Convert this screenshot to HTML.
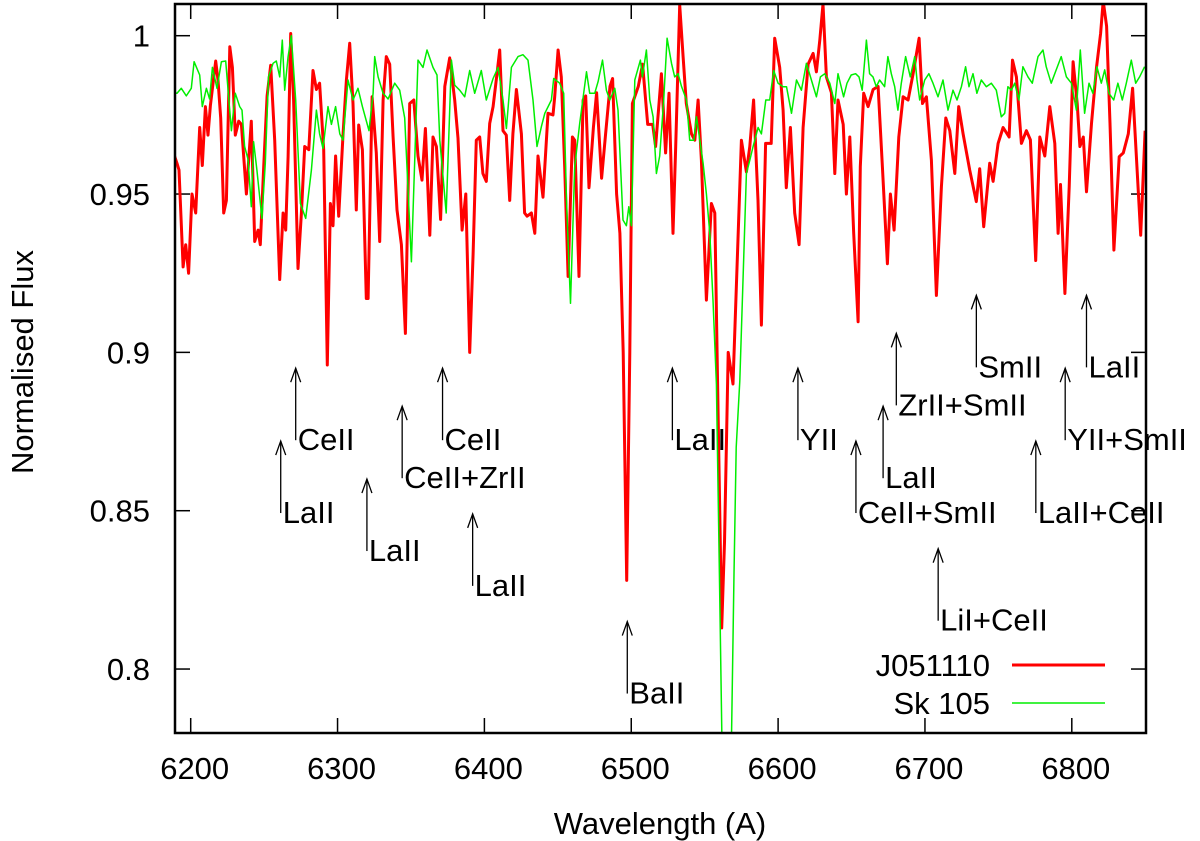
<!DOCTYPE html>
<html><head><meta charset="utf-8"><style>
html,body{margin:0;padding:0;background:#fff;}
svg{display:block;font-family:"Liberation Sans",Arial,sans-serif;}
</style></head><body>
<svg id="chart" width="1200" height="841" viewBox="0 0 1200 841" xmlns="http://www.w3.org/2000/svg">
<defs><clipPath id="clip"><rect x="175" y="4" width="971" height="729"/></clipPath></defs>
<g id="grid"></g>
<g id="series" clip-path="url(#clip)"></g>
<g id="annots"></g>
<rect x="175" y="4" width="971" height="729" fill="none" stroke="#000" stroke-width="2.5"/>
<text x="660" y="834" font-size="31" text-anchor="middle">Wavelength (A)</text>
<text x="0" y="0" font-size="31" text-anchor="middle" transform="translate(33,362) rotate(-90)">Normalised Flux</text>
<g>
<text x="990" y="676" font-size="31" text-anchor="end">J051110</text>
<line x1="1012" y1="665" x2="1105" y2="665" stroke="#ff0000" stroke-width="3"/>
<text x="990" y="714" font-size="31" text-anchor="end">Sk 105</text>
<line x1="1012" y1="703" x2="1105" y2="703" stroke="#00ee00" stroke-width="1.5"/>
</g>
</svg>
<script>
const xTicks=[6200,6300,6400,6500,6600,6700,6800];
const yTicks=[0.8,0.85,0.9,0.95,1];
const yTickLabels=["0.8","0.85","0.9","0.95","1"];
const redSpectrum=[[6189,.962],[6190.7,.9597],[6192,.9576],[6194.8,.927],[6196.6,.934],[6198.6,.925],[6200.9,.950],[6203.4,.944],[6206.1,.971],[6207.9,.959],[6210,.9776],[6211.8,.9686],[6213.4,.978],[6217,.992],[6218.6,.986],[6220.4,.974],[6222.5,.944],[6224.3,.948],[6226.6,.9965],[6228.4,.990],[6230.4,.9686],[6232.7,.973],[6234.5,.972],[6237.9,.950],[6241.3,.973],[6243.6,.935],[6245.9,.9386],[6247.4,.934],[6249.7,.9586],[6252,.981],[6254.5,.9907],[6257.2,.967],[6260.6,.923],[6262.9,.944],[6264.7,.9386],[6266.3,.9618],[6268.1,1.0007],[6270.1,.9797],[6273.1,.9265],[6275.4,.944],[6277.6,.965],[6280.4,.964],[6283.3,.989],[6285.6,.983],[6287.8,.985],[6290.6,.964],[6293,.896],[6295.1,.947],[6296.9,.940],[6298.7,.962],[6300.8,.943],[6303.7,.9686],[6306,.986],[6308.3,.9976],[6310.5,.9786],[6312.8,.945],[6314.4,.9718],[6316.9,.964],[6319.6,.917],[6320.8,.917],[6323.5,.9807],[6326.4,.963],[6328.7,.935],[6331,.9797],[6333.2,.9934],[6335.5,.991],[6337.8,.968],[6340.5,.945],[6343.5,.934],[6346.2,.906],[6349.1,.9786],[6351.9,.9797],[6354.8,.962],[6357.5,.9544],[6359.8,.9707],[6362.8,.937],[6365,.968],[6367.3,.965],[6370.2,.942],[6373,.984],[6376.4,.993],[6379.8,.9797],[6382,.9676],[6384.8,.9386],[6387.3,.950],[6390,.900],[6392.3,.931],[6394.5,.967],[6396.8,.968],[6399,.9565],[6401.3,.954],[6403.6,.9723],[6405.9,.9776],[6408.6,.988],[6410.4,.9955],[6412.7,.970],[6414.9,.9686],[6417.2,.948],[6419.4,.969],[6421.8,.983],[6425.2,.969],[6427.4,.944],[6429.1,.943],[6432,.944],[6434.3,.9376],[6436.5,.962],[6439.9,.949],[6443.3,.9755],[6446.7,.975],[6447.9,.9807],[6450.2,.9955],[6452.4,.987],[6454.7,.9586],[6457,.924],[6459.9,.968],[6461.5,.967],[6464.4,.924],[6467.2,.9797],[6469,.981],[6471.2,.952],[6474.2,.971],[6476.4,.982],[6479.8,.955],[6482.5,.969],[6485.5,.984],[6487.3,.9865],[6490,.950],[6492.3,.9376],[6494.5,.90],[6496.9,.828],[6499,.90],[6500.8,.9786],[6504.8,.984],[6507.7,.991],[6511.2,.972],[6514.6,.972],[6516.6,.965],[6520.5,.988],[6523.4,.963],[6525.7,.9818],[6528.4,.9376],[6530.3,.965],[6533,1.0097],[6535.3,.9934],[6537.5,.9786],[6541,.969],[6543.3,.967],[6545.5,.9797],[6547.8,.9607],[6551.2,.9165],[6554.6,.947],[6556.9,.944],[6558.8,.89],[6561.6,.813],[6563.5,.84],[6566,.90],[6569.3,.89],[6575,.967],[6578.4,.957],[6580.7,.965],[6583.3,.9797],[6586.3,.948],[6588.6,.9086],[6591.5,.966],[6595.3,.966],[6597.7,.9992],[6601.1,.990],[6603.4,.9765],[6605.6,.952],[6608.4,.971],[6611.3,.944],[6614.3,.934],[6617,.971],[6620.4,.991],[6623.8,.9944],[6626.1,.9886],[6628.4,.9986],[6630.6,1.01],[6632.9,.987],[6636.3,.982],[6638.6,.9565],[6640.8,.9797],[6644.3,.972],[6646.5,.950],[6648.8,.968],[6651.5,.9376],[6654.5,.9097],[6656,.9586],[6658.3,.9818],[6661.3,.9776],[6664.7,.983],[6668.1,.984],[6671,.9586],[6674.4,.928],[6676.5,.950],[6679,.9386],[6682.2,.968],[6685.1,.9807],[6688.5,.9797],[6691.9,.988],[6696,.9992],[6698.3,.9786],[6701,.9807],[6704.4,.9607],[6707.8,.918],[6711.2,.9523],[6714.2,.974],[6716.9,.970],[6720.3,.9565],[6723,.9776],[6726,.969],[6730.5,.9576],[6735,.9476],[6737.3,.958],[6740,.9397],[6744.1,.9597],[6746.4,.954],[6749.8,.966],[6753.2,.971],[6757.3,.968],[6759.6,.9923],[6762.3,.987],[6765.7,.966],[6769.1,.970],[6771.8,.9671],[6775.4,.929],[6778.2,.968],[6781.6,.962],[6785,.9776],[6788.4,.966],[6790.7,.9376],[6792.3,.953],[6795.3,.9186],[6798.2,.9523],[6800.9,.9918],[6803.7,.9786],[6805.5,.965],[6807.8,.968],[6810,.9507],[6813.4,.9723],[6816.8,.990],[6819.6,1.0007],[6821.4,1.011],[6823.7,1.003],[6826,.9723],[6828.7,.9323],[6832.3,.9618],[6835.1,.963],[6838.5,.969],[6841.4,.9834],[6843.7,.964],[6846.9,.937],[6849.9,.970]];
const greenSpectrum=[[6189,.982],[6190.7,.9818],[6193.6,.9834],[6197,.981],[6200.4,.9834],[6202.3,.9918],[6206.1,.9876],[6207.9,.9776],[6210.7,.9834],[6212.9,.980],[6214.8,.990],[6217.9,.9834],[6220.9,.9918],[6223.8,.992],[6227.7,.970],[6230.4,.9818],[6233.4,.9776],[6234.9,.9765],[6236.7,.965],[6239,.961],[6241.3,.946],[6242.8,.9665],[6245.1,.9576],[6248.5,.9423],[6250.8,.9597],[6253,.987],[6256.1,.9913],[6258.3,.992],[6260.6,.987],[6262.4,.9986],[6264,.9828],[6266.3,.9934],[6268.5,1.0],[6271.5,.9797],[6274.7,.947],[6278.3,.9423],[6282.2,.9576],[6285.6,.9765],[6287.8,.969],[6290.1,.9644],[6293.5,.9776],[6295.8,.972],[6298.7,.9776],[6301.5,.969],[6303.7,.967],[6307.1,.986],[6310.5,.9797],[6313.9,.9834],[6316.9,.9776],[6321.4,.970],[6324.2,.9818],[6325.3,.9934],[6327.6,.987],[6331,.9818],[6334.4,.980],[6338.9,.985],[6342.3,.9828],[6345.7,.974],[6350.3,.9286],[6354.8,.9923],[6358.2,.990],[6360.9,.9955],[6365,.990],[6367.7,.9876],[6369.6,.967],[6374,.944],[6377.5,.9923],[6379.8,.9844],[6383.2,.9828],[6386.6,.9807],[6390,.989],[6393.4,.9818],[6397.9,.989],[6401.3,.9797],[6405.9,.9865],[6409.3,.990],[6412.7,.9797],[6415,.9707],[6418.4,.990],[6422.9,.9934],[6426.3,.994],[6429.7,.9923],[6433.1,.9797],[6435.8,.965],[6438.8,.9713],[6441.1,.9755],[6445.6,.9797],[6447.2,.9865],[6451.3,.985],[6454,.9818],[6455.9,.948],[6458.6,.9155],[6461.5,.9586],[6464.9,.9723],[6469.5,.9886],[6471.7,.9818],[6475.1,.9818],[6477.4,.9855],[6480.4,.9923],[6483.1,.9828],[6485.4,.9797],[6488.8,.9834],[6491,.9765],[6494.4,.9418],[6496.7,.940],[6498.3,.946],[6500.1,.940],[6502.4,.986],[6506.2,.9923],[6507.6,.987],[6510.3,.9955],[6512.6,.9797],[6514.9,.9744],[6517.1,.9565],[6519.4,.962],[6522.1,.9797],[6524.4,.9992],[6527.4,.9913],[6529.6,.987],[6531.9,.988],[6534.2,.984],[6537.6,.9797],[6539.8,.967],[6542.6,.967],[6544.4,.9744],[6548.9,.9597],[6551.2,.950],[6553.5,.9376],[6555.7,.9165],[6558,.89],[6560,.83],[6562,.77],[6568,.77],[6570,.83],[6571.5,.87],[6573.9,.891],[6578.4,.9565],[6580.7,.9607],[6583,.965],[6586.4,.971],[6588.6,.969],[6591.6,.9797],[6594.3,.9797],[6597,.989],[6600,.985],[6603.4,.9839],[6605.7,.9839],[6609.1,.9755],[6612.5,.986],[6615.9,.9828],[6619.3,.9913],[6622.7,.986],[6626.1,.9807],[6628.8,.987],[6631.8,.988],[6635.2,.985],[6638.6,.9786],[6640.8,.988],[6644.6,.9807],[6646.9,.985],[6649.8,.9876],[6652.8,.988],[6655.1,.987],[6657.3,.9828],[6660.1,.9986],[6662.3,.988],[6664.6,.987],[6666.9,.9839],[6669.1,.986],[6672.5,.9839],[6674.8,.9934],[6677.1,.988],[6679.4,.9839],[6681.6,.9765],[6683.9,.985],[6686.8,.9934],[6690,.987],[6693,.9934],[6694.6,.986],[6696.4,.9797],[6699.8,.986],[6702.7,.988],[6705.5,.985],[6708.9,.9807],[6712.3,.986],[6715.7,.9765],[6719.1,.9828],[6721.8,.9797],[6724.8,.9839],[6727.7,.9902],[6730,.9839],[6732.7,.988],[6735.4,.9818],[6738.4,.986],[6741.8,.9839],[6745.2,.985],[6748.6,.9828],[6752,.9744],[6754.3,.9755],[6756.5,.9839],[6758.8,.9828],[6761.1,.985],[6764,.9797],[6766.7,.9902],[6770.2,.987],[6773.1,.985],[6777,.9934],[6780.4,.9955],[6782.6,.9902],[6786,.985],[6789.4,.9892],[6792.8,.9934],[6796.3,.987],[6799.7,.985],[6803.1,.9765],[6805.8,.9955],[6808.7,.9755],[6811.7,.985],[6814.4,.9818],[6817.1,.9902],[6820.1,.985],[6822.4,.9892],[6825.3,.9818],[6828.5,.9797],[6831.4,.985],[6834.4,.9797],[6837.1,.985],[6840.5,.9923],[6843.5,.985],[6846.2,.987],[6849.6,.9902]];
const annotLabels=["CeII","LaII","LaII","CeII+ZrII","CeII","LaII","BaII","LaII","YII","CeII+SmII","LaII","ZrII+SmII","LiI+CeII","SmII","LaII+CeII","YII+SmII","LaII"];
const annotW=[6271.5,6261.3,6320,6344,6371.5,6392,6497.3,6528,6613.5,6653,6671.5,6680.5,6709,6735,6775.5,6795.5,6810];
const annotTip=[0.895,0.872,0.860,0.883,0.895,0.849,0.815,0.895,0.895,0.872,0.883,0.906,0.838,0.918,0.872,0.895,0.918];

const NS="http://www.w3.org/2000/svg";
function X(w){return 190.7+(w-6200)*1.4685;}
function Y(f){return 35.7+(1-f)*3166.7;}
function mk(tag,attrs,parent){const e=document.createElementNS(NS,tag);for(const k in attrs)e.setAttribute(k,attrs[k]);parent.appendChild(e);return e;}
const grid=document.getElementById('grid');
xTicks.forEach(t=>{
  const x=X(t);
  const a=mk('line',{x1:x,y1:733,x2:x,y2:718,stroke:'#000','stroke-width':1.5},grid);
  
  
  const b=mk('line',{x1:x,y1:4,x2:x,y2:19,stroke:'#000','stroke-width':1.5},grid);
  
  
  const l=mk('text',{x:x+4,y:779,'font-size':31,'text-anchor':'middle'},grid);
  l.textContent=String(t);
  
  
});
yTicks.forEach((t,i)=>{
  const y=Y(t);
  const a=mk('line',{x1:175,y1:y,x2:190,y2:y,stroke:'#000','stroke-width':1.5},grid);
  
  
  const b=mk('line',{x1:1146,y1:y,x2:1131,y2:y,stroke:'#000','stroke-width':1.5},grid);
  
  
  const l=mk('text',{x:150,y:y+11,'font-size':31,'text-anchor':'end'},grid);
  l.textContent=yTickLabels[i];
  
  
});
const series=document.getElementById('series');
function pts(S){return S.map(p=>X(p[0]).toFixed(1)+','+Y(p[1]).toFixed(1)).join(' ');}
const r=mk('polyline',{points:pts(redSpectrum),fill:'none',stroke:'#ff0000','stroke-width':3,'stroke-linejoin':'round'},series);


const g=mk('polyline',{points:pts(greenSpectrum),fill:'none',stroke:'#00ee00','stroke-width':1.5,'stroke-linejoin':'round'},series);


const an=document.getElementById('annots');
annotLabels.forEach((lab,i)=>{
  const x=X(annotW[i]);const ty=Y(annotTip[i]);
  const grp=mk('g',{},an);
  
  
  mk('line',{x1:x,y1:ty,x2:x,y2:ty+72,stroke:'#000','stroke-width':1.3},grp);
  mk('path',{d:`M${x-5},${ty+14} L${x},${ty} L${x+5},${ty+14}`,fill:'none',stroke:'#000','stroke-width':1.3},grp);
  const t=mk('text',{x:x+2,y:ty+82,'font-size':31},grp);
  t.textContent=lab;
});
</script>
</body></html>
